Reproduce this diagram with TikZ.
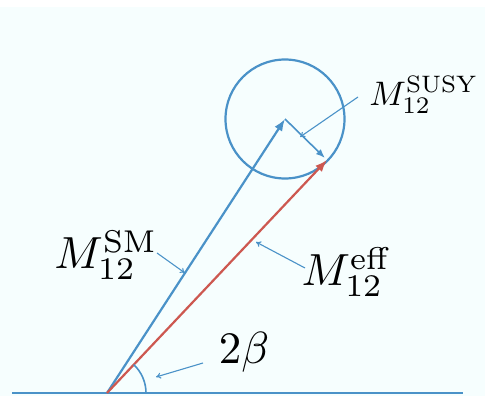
\documentclass[tikz,border=0pt]{standalone}
\usetikzlibrary{arrows.meta,calc}
\definecolor{bg}{RGB}{246,254,254}
\definecolor{vblue}{RGB}{74,146,200}
\definecolor{vred}{RGB}{205,88,80}
\tikzset{
  vec/.style={line width=2.2pt,-{Latex[length=12pt,width=9pt]}},
  pointer/.style={vblue,line width=1.1pt,-{To[length=5pt,width=6pt]}},
  lbl/.style={inner sep=0pt,scale=4.5,transform shape},
  lbls/.style={inner sep=0pt,scale=3.4,transform shape}
}
\begin{document}
\begin{tikzpicture}[x=1pt,y=-1pt]
\fill[bg] (0,0) rectangle (485,396);
\fill[white] (0,0) rectangle (485,7);
\useasboundingbox (0,0) rectangle (485,396);
\coordinate (O) at (107,393);
\coordinate (C) at (285,119);
\coordinate (T) at (327,160);
\coordinate (BL) at (12,393);
\coordinate (BR) at (463,393);
\draw[vblue,line width=1.8pt] (BL) -- (BR);
\draw[vblue,line width=2.2pt] (C) circle (59.5);
\draw[vblue,vec] (O) -- (C);
\draw[vred,vec] (O) -- (T);
\draw[vblue,line width=1.6pt,-{Latex[length=9pt,width=7pt]}] (C) -- ($(C)!0.95!(T)$);
\draw[vblue,line width=1.6pt] (146,393) arc[start angle=0,end angle=-46.6,radius=39];
\node[lbls] (susy) at (424,95) {$M_{12}^{\mathrm{SUSY}}$};
\node[lbl] (sm) at (106,255) {$M_{12}^{\mathrm{SM}}$};
\node[lbl] (eff) at (347,272) {$M_{12}^{\mathrm{eff}}$};
\node[lbl] (beta) at (244,352) {$2\beta$};
\coordinate (pS) at (300,137);
\coordinate (pSM) at (185,273);
\coordinate (pE) at (256,242);
\coordinate (pB) at (156,377);
\draw[pointer] (358,97) -- (pS);
\draw[pointer] (157,253) -- (pSM);
\draw[pointer] (305,268) -- (pE);
\draw[pointer] (203,363) -- (pB);
\end{tikzpicture}
\end{document}
